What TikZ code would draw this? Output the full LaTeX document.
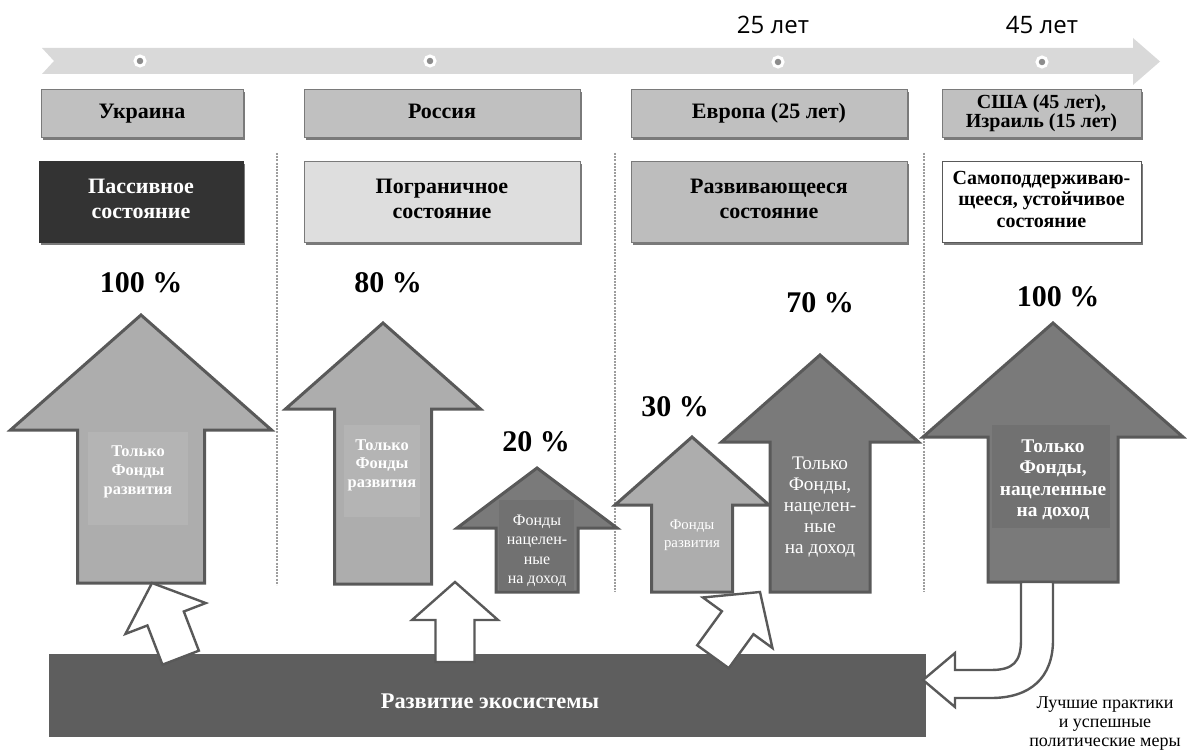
\documentclass[tikz,border=0pt]{standalone}
\usepackage{fontspec}
\setmainfont{Liberation Serif}
\newfontfamily\yearsans{Open Sans}
\usetikzlibrary{shadows}

\definecolor{bandgray}{HTML}{D9D9D9}
\definecolor{dotgray}{HTML}{8C8C8C}
\definecolor{boxgray}{HTML}{C0C0C0}
\definecolor{edgegray}{HTML}{7A7A7A}
\definecolor{passivegray}{HTML}{333333}
\definecolor{bordergray}{HTML}{DEDEDE}
\definecolor{develgray}{HTML}{BDBDBD}
\definecolor{lightfund}{HTML}{ADADAD}
\definecolor{lightinner}{HTML}{B4B4B4}
\definecolor{darkfund}{HTML}{7A7A7A}
\definecolor{darkinner}{HTML}{717171}
\definecolor{outlinegray}{HTML}{595959}
\definecolor{ecogray}{HTML}{5E5E5E}
\definecolor{sepgray}{HTML}{9E9E9E}

% style, name, centre x, tip y, head half, head y, shaft half, bottom y
\newcommand{\fundarrow}[8]{%
  \draw[#1] (#3,#4) -- (#3+#5,#6) -- (#3+#7,#6) -- (#3+#7,#8)
    -- (#3-#7,#8) -- (#3-#7,#6) -- (#3-#5,#6) -- cycle;
  \coordinate (#2) at (#3,#8);}

% tip, turn
\newcommand{\liftarrow}[2]{%
  \draw[hollow, shift={(#1)}, rotate=#2] (0,0) -- (43,38) -- (19.5,38) -- (19.5,80)
    -- (-19.5,80) -- (-19.5,38) -- (-43,38) -- cycle;}

\begin{document}
\begin{tikzpicture}[x=0.5pt,y=-0.5pt,
  country/.style={draw=edgegray, line width=0.5pt, fill=boxgray, inner sep=0pt,
    minimum height=24pt, align=center, font=\bfseries\fontsize{11}{12.5}\selectfont,
    execute at begin node=\strut,
    drop shadow={shadow xshift=1pt, shadow yshift=-1pt, fill=edgegray, opacity=1}},
  state/.style={country, minimum height=40.5pt},
  tdot/.style={circle, fill=dotgray, draw=white, line width=1.5pt, minimum size=5pt, inner sep=0pt},
  year/.style={font=\yearsans\fontsize{12}{14}\selectfont},
  pct/.style={font=\bfseries\fontsize{15}{18}\selectfont},
  lightarrow/.style={fill=lightfund, draw=outlinegray, line width=1.5pt, line join=miter},
  darkarrow/.style={fill=darkfund, draw=outlinegray, line width=1.5pt, line join=miter},
  hollow/.style={fill=white, draw=outlinegray, line width=1.2pt, line join=miter},
  fundtext/.style={text=white, align=center, inner sep=0pt},
  sepline/.style={draw=sepgray, line width=1.3pt, dash pattern=on 1pt off 0.6pt}]
\useasboundingbox (0,0) rectangle (1189,754);

% time line
\fill[bandgray] (42,48) -- (1133,48) -- (1133,38) -- (1160,61.5) -- (1133,85)
  -- (1133,74) -- (42,74) -- (54,61) -- cycle;
\node[tdot] (d1) at (140,61) {};
\node[tdot] (d2) at (430,61) {};
\node[tdot] (d3) at (778,62) {};
\node[tdot] (d4) at (1042,62) {};
\node[year] (y25) at (773,25) {25 лет};
\node[year] (y45) at (1042,25) {45 лет};

% countries
\node[country, minimum width=101pt] (ukr) at (142,114) {Украина};
\node[country, minimum width=138pt] (rus) at (442,114) {Россия};
\node[country, minimum width=138pt] (eur) at (769,114) {Европа (25 лет)};
\node[country, minimum width=99.5pt, font=\bfseries\fontsize{10}{9.5}\selectfont,
  execute at begin node={}] (usa) at (1041.5,114)
  {США (45 лет),\\Израиль (15 лет)};

% states
\node[state, minimum width=102pt, fill=passivegray, draw=passivegray, text=white] (pas) at (141,202.5)
  {Пассивное\\состояние};
\node[state, minimum width=138pt, fill=bordergray] (bor) at (442,202.5) {Пограничное\\состояние};
\node[state, minimum width=138pt, fill=develgray] (dev) at (769,202.5) {Развивающееся\\состояние};
\node[state, minimum width=99.5pt, fill=white, draw=outlinegray, font=\bfseries\fontsize{10}{10.7}\selectfont,
  execute at begin node={}] (sus) at (1041.5,202.5)
  {Самоподдерживаю-\\щееся, устойчивое\\состояние};

% separators
\draw[sepline] (277,153) -- (277,585);
\draw[sepline] (615,153) -- (615,592);
\draw[sepline] (924,153) -- (924,592);

% funds
\fundarrow{lightarrow}{a1}{141}{315}{130.5}{430}{63.5}{583}
\fundarrow{lightarrow}{a2}{383}{323}{97.5}{409}{48.5}{584}
\fundarrow{darkarrow}{a3}{537}{468}{80}{528}{41}{592}
\fundarrow{lightarrow}{a4}{692}{437}{77}{505}{40.5}{592}
\fundarrow{darkarrow}{a5}{820}{355}{98.5}{442}{50}{592}
\fundarrow{darkarrow}{a6}{1053}{323}{130}{437}{65}{582}

\fill[lightinner] (88,432) rectangle (188,525);
\fill[lightinner] (344,425) rectangle (420,517);
\fill[darkinner] (499,500) rectangle (574,590);
\fill[darkinner] (992,425) rectangle (1110,528);

\node[fundtext, font=\bfseries\fontsize{8.2}{9.5}\selectfont] (t1) at (138,472) {Только\\Фонды\\развития};
\node[fundtext, font=\bfseries\fontsize{8.2}{9.3}\selectfont] (t2) at (382,465) {Только\\Фонды\\развития};
\node[fundtext, font=\fontsize{8}{9.7}\selectfont] (t3) at (537,551) {Фонды\\нацелен-\\ные\\на доход};
\node[fundtext, font=\fontsize{7.4}{9}\selectfont] (t4) at (692,535) {Фонды\\развития};
\node[fundtext, font=\fontsize{9.6}{10.6}\selectfont] (t5) at (820,507) {Только\\Фонды,\\нацелен-\\ные\\на доход};
\node[fundtext, font=\bfseries\fontsize{9.7}{10.7}\selectfont] (t6) at (1053,480) {Только\\Фонды,\\нацеленные\\на доход};

% shares
\node[pct] (p1) at (141,283) {100 \%};
\node[pct] (p2) at (388,283) {80 \%};
\node[pct] (p3) at (536,442) {20 \%};
\node[pct] (p4) at (675,407) {30 \%};
\node[pct] (p5) at (820,303) {70 \%};
\node[pct] (p6) at (1058,297) {100 \%};

% ecosystem
\node[fill=ecogray, minimum width=438.5pt, minimum height=41.5pt, inner sep=0pt] (eco) at (487.5,695.5) {};
\node[text=white, font=\bfseries\fontsize{11.2}{13}\selectfont] (ecotxt) at (490,701) {Развитие экосистемы};

\coordinate (b1) at (152,583);
\coordinate (b2) at (455,582);
\coordinate (b3) at (760,592);
\liftarrow{b1}{21}
\liftarrow{b2}{0}
\liftarrow{b3}{-36}

\draw[hollow] (1021,582) -- (1021,640) .. controls (1021,662) and (1013,670) .. (991,670)
  -- (955,670) -- (955,653) -- (923,680) -- (955,707) -- (955,698) -- (991,698)
  .. controls (1030,698) and (1053,678) .. (1053,640) -- (1053,582) -- cycle;

\node[align=center, font=\fontsize{9}{9.5}\selectfont] (best) at (1105,724)
  {Лучшие практики\\и успешные\\политические меры};
\end{tikzpicture}
\end{document}
